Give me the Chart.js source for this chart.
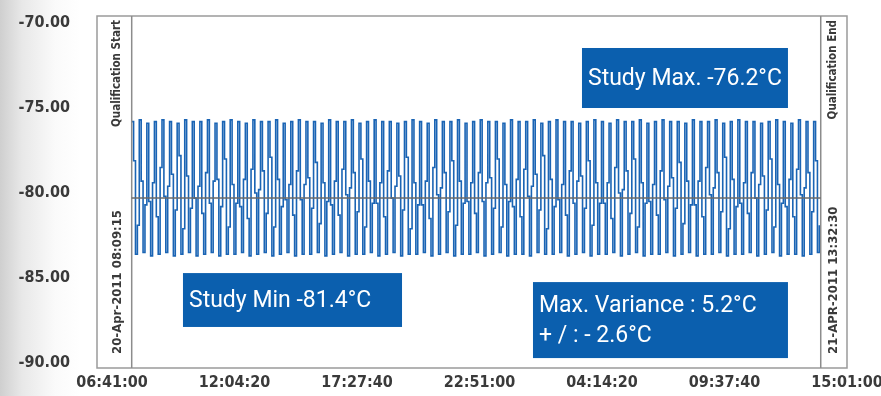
<!DOCTYPE html>
<html>
<head>
<meta charset="utf-8">
<script src="https://cdn.jsdelivr.net/npm/chart.js@4.4.1/dist/chart.umd.min.js"></script>
<style>
  html, body { margin:0; padding:0; }
  body {
    width:881px; height:396px; overflow:hidden;
    background: linear-gradient(to right, #cfcfcf 0px, #e8e8e8 22px, #fafafa 55px, #ffffff 80px);
  }
  canvas { display:block; }
</style>
</head>
<body>
<canvas id="c" width="881" height="396"></canvas>
<script>
// x axis in seconds since 06:41:00 on 20-Apr-2011
const DAY_START = 6*3600 + 41*60;
const xTicks = [0, 19400, 38800, 58200, 77600, 97000, 116400];
const yTicks = [-90, -85, -80, -75, -70];

const QUAL_START = 3120;
const QUAL_END = 112240;
const LOG_STEP = 300;
const MEAN_TEMP = -80.3;

// logged temperatures (degC), one sample per LOG_STEP
const temps = [
  -75.8,-78.1,-83.6,-81.9, -75.7,-79.3,-83.5,-80.7, -75.9,-80.5,-83.7,-79.4, -75.8,-81.4,-83.6,-78.5,
  -75.7,-80.2,-83.5,-79.6, -75.8,-78.9,-83.7,-81.0, -75.9,-77.8,-83.6,-82.1, -75.7,-79.0,-83.5,-80.9,
  -75.8,-80.3,-83.7,-79.6, -75.8,-81.2,-83.6,-78.8, -75.7,-80.6,-83.5,-79.3, -75.9,-79.2,-83.7,-80.8,
  -75.8,-78.0,-83.6,-82.0, -75.7,-79.5,-83.6,-80.6, -75.8,-80.8,-83.5,-79.2, -75.9,-81.5,-83.7,-78.6,
  -75.7,-80.0,-83.6,-79.8, -75.8,-78.7,-83.5,-81.2, -75.8,-77.9,-83.7,-82.0, -75.7,-79.2,-83.6,-80.8,
  -75.9,-80.4,-83.5,-79.5, -75.8,-81.3,-83.7,-78.7, -75.7,-80.4,-83.6,-79.5, -75.8,-79.1,-83.6,-80.9,
  -75.8,-78.2,-83.5,-81.8, -75.9,-79.4,-83.7,-80.5, -75.7,-80.7,-83.6,-79.3, -75.8,-81.3,-83.5,-78.6,
  -75.8,-80.1,-83.7,-79.7, -75.7,-78.8,-83.6,-81.1, -75.9,-78.0,-83.6,-82.0, -75.8,-79.3,-83.5,-80.6,
  -75.7,-80.6,-83.7,-79.4, -75.8,-81.4,-83.6,-78.7, -75.8,-80.3,-83.5,-79.6, -75.9,-79.0,-83.7,-81.0,
  -75.8,-77.9,-83.6,-82.1, -75.7,-79.4,-83.6,-80.7, -75.8,-80.7,-83.5,-79.3, -75.9,-81.5,-83.7,-78.5,
  -75.7,-80.1,-83.6,-79.7, -75.8,-78.8,-83.5,-81.1, -75.8,-78.1,-83.7,-81.9, -75.7,-79.3,-83.6,-80.6,
  -75.9,-80.5,-83.6,-79.4, -75.8,-81.2,-83.5,-78.8, -75.7,-80.5,-83.7,-79.4, -75.8,-79.1,-83.6,-80.9,
  -75.8,-78.0,-83.5,-82.0, -75.9,-79.5,-83.7,-80.5, -75.7,-80.8,-83.6,-79.2, -75.8,-81.4,-83.6,-78.6,
  -75.8,-80.2,-83.7,-79.6, -75.7,-78.9,-83.5,-81.0, -75.9,-77.8,-83.6,-82.1, -75.8,-79.2,-83.6,-80.8,
  -75.7,-80.4,-83.5,-79.5, -75.8,-81.3,-83.7,-78.7, -75.8,-80.6,-83.6,-79.3, -75.9,-79.0,-83.5,-80.9,
  -75.8,-78.1,-83.7,-81.9, -75.7,-79.4,-83.6,-80.6, -75.8,-80.6,-83.6,-79.4, -75.9,-81.5,-83.5,-78.5,
  -75.7,-80.0,-83.7,-79.8, -75.8,-78.7,-83.6,-81.2, -75.8,-78.0,-83.5,-82.0, -75.7,-79.4,-83.7,-80.6,
  -75.9,-80.5,-83.6,-79.5, -75.8,-81.3,-83.6,-78.7, -75.7,-80.4,-83.5,-79.6, -75.8,-79.1,-83.7,-80.9,
  -75.8,-78.2,-83.6,-81.8, -75.9,-79.3,-83.5,-80.7, -75.7,-80.7,-83.7,-79.3, -75.8,-81.4,-83.6,-78.5,
  -75.8,-80.1,-83.6,-79.7, -75.7,-78.8,-83.5,-81.1, -75.9,-77.9,-83.7,-82.1, -75.8,-79.2,-83.6,-80.8,
  -75.7,-80.6,-83.6,-79.4, -75.8,-81.2,-83.5,-78.8, -75.8,-80.3,-83.7,-79.5, -75.9,-79.0,-83.6,-81.0,
  -75.8,-78.0,-83.5,-82.0, -75.7,-79.5,-83.7,-80.6, -75.8,-80.8,-83.6,-79.2, -75.9,-81.4,-83.6,-78.6,
  -75.7,-80.1,-83.7,-79.7, -75.8,-78.8,-83.6,-81.1, -75.8,-78.1,-83.5,-81.9
];

// info boxes, placed in data units (x seconds, y degC)
const boxes = [
  { x0: 74430, x1: 107050, y0: -71.47, y1: -75.0, lines: ['Study Max. -76.2\u00B0C'] },
  { x0: 11240, x1: 45930, y0: -84.71, y1: -87.88, lines: ['Study Min -81.4\u00B0C'] },
  { x0: 66670, x1: 107050, y0: -85.24, y1: -89.71, lines: ['Max. Variance : 5.2\u00B0C', '+ / : - 2.6\u00B0C'] }
];

const Y_MIN = -90.294, Y_MAX = -69.588;
const X_MIN = -2375, X_MAX = 116400;

const pts = temps.map((v, i) => ({ x: QUAL_START + i*LOG_STEP, y: v }));

function fmtTime(s){
  const t = (DAY_START + s) % 86400;
  const p = n => String(n).padStart(2,'0');
  return p(Math.floor(t/3600)) + ':' + p(Math.floor(t/60)%60) + ':' + p(t%60);
}

const TICK_FONT = "'DejaVu Sans Condensed', 'DejaVu Sans', sans-serif";

const overlay = {
  id: 'overlay',
  beforeDatasetsDraw(chart){
    const {ctx, chartArea: a} = chart;
    ctx.save();
    ctx.strokeStyle = '#9a9a9a';
    ctx.lineWidth = 1.5;
    ctx.strokeRect(a.left, a.top, a.right - a.left, a.bottom - a.top);
    ctx.restore();
  },
  afterDatasetsDraw(chart){
    const {ctx, chartArea: a, scales: {x, y}} = chart;
    ctx.save();
    // rotated labels next to qualification lines
    ctx.fillStyle = '#3a3a3a';
    const vtext = (px, py, txt, size, align) => {
      ctx.save();
      ctx.translate(px, py);
      ctx.rotate(-Math.PI/2);
      ctx.font = 'bold ' + size + 'px ' + TICK_FONT;
      ctx.textAlign = align;
      ctx.textBaseline = 'middle';
      ctx.fillText(txt, 0, 0);
      ctx.restore();
    };
    const xs = x.getPixelForValue(QUAL_START), xe = x.getPixelForValue(QUAL_END);
    vtext(xs - 15, a.top + 4, 'Qualification Start', 11.5, 'right');
    vtext(xs - 14, a.bottom - 14, '20-Apr-2011 08:09:15', 13, 'left');
    vtext(xe + 12, a.top + 4, 'Qualification End', 11.5, 'right');
    vtext(xe + 13, a.bottom - 14, '21-APR-2011 13:32:30', 13, 'left');

    // info boxes
    boxes.forEach(b => {
      const l = x.getPixelForValue(b.x0), r = x.getPixelForValue(b.x1);
      const t = y.getPixelForValue(b.y0), btm = y.getPixelForValue(b.y1);
      ctx.fillStyle = '#0b5fae';
      ctx.fillRect(l, t, r - l, btm - t);
      ctx.fillStyle = '#ffffff';
      ctx.font = "23px Roboto, 'Open Sans', sans-serif";
      ctx.textAlign = 'left';
      ctx.textBaseline = 'middle';
      const lh = 30, cy = (t + btm)/2 - (b.lines.length - 1)*lh/2 + 1;
      b.lines.forEach((s, i) => ctx.fillText(s, l + 6, cy + i*lh));
    });
    ctx.restore();
  }
};

new Chart(document.getElementById('c'), {
  type: 'line',
  data: {
    datasets: [
      {
        label: 'mean',
        data: [{x: QUAL_START, y: MEAN_TEMP}, {x: QUAL_END, y: MEAN_TEMP}],
        borderColor: '#6a6a6a', borderWidth: 1.5, pointRadius: 0, order: 0
      },
      {
        label: 'start',
        data: [{x: QUAL_START, y: Y_MIN}, {x: QUAL_START, y: Y_MAX}],
        borderColor: '#8c8c8c', borderWidth: 1.5, pointRadius: 0, order: 1
      },
      {
        label: 'end',
        data: [{x: QUAL_END, y: Y_MIN}, {x: QUAL_END, y: Y_MAX}],
        borderColor: '#8c8c8c', borderWidth: 1.5, pointRadius: 0, order: 1
      },
      {
        label: 'Temperature',
        data: pts,
        stepped: true,
        borderColor: '#1a64b4',
        borderWidth: 1.6,
        pointRadius: 0,
        order: 2
      }
    ]
  },
  options: {
    responsive: false,
    animation: false,
    devicePixelRatio: 1,
    layout: { padding: { top: 16, left: 0, right: 0, bottom: 0 } },
    plugins: { legend: { display: false }, title: { display: false }, tooltip: { enabled: false } },
    scales: {
      x: {
        type: 'linear',
        min: X_MIN, max: X_MAX,
        afterBuildTicks: s => { s.ticks = xTicks.map(v => ({ value: v })); },
        afterFit: s => { s.height = 28; s.paddingLeft = 0; s.paddingRight = 34; s.paddingTop = 0; s.paddingBottom = 0; },
        grid: { display: false, drawTicks: false },
        border: { display: false },
        ticks: {
          padding: 5,
          maxRotation: 0,
          autoSkip: false,
          color: '#3a3a3a',
          font: { family: TICK_FONT, size: 16, weight: 'bold' },
          callback: v => fmtTime(v)
        }
      },
      y: {
        min: Y_MIN, max: Y_MAX,
        afterBuildTicks: s => { s.ticks = yTicks.map(v => ({ value: v })); },
        afterFit: s => { s.width = 97; s.paddingTop = 0; s.paddingBottom = 0; s.paddingLeft = 0; s.paddingRight = 0; },
        grid: { display: false, drawTicks: false },
        border: { display: false },
        ticks: {
          padding: 27,
          color: '#3a3a3a',
          font: { family: TICK_FONT, size: 16, weight: 'bold' },
          callback: v => v.toFixed(2)
        }
      }
    }
  },
  plugins: [overlay]
});
</script>
</body>
</html>
